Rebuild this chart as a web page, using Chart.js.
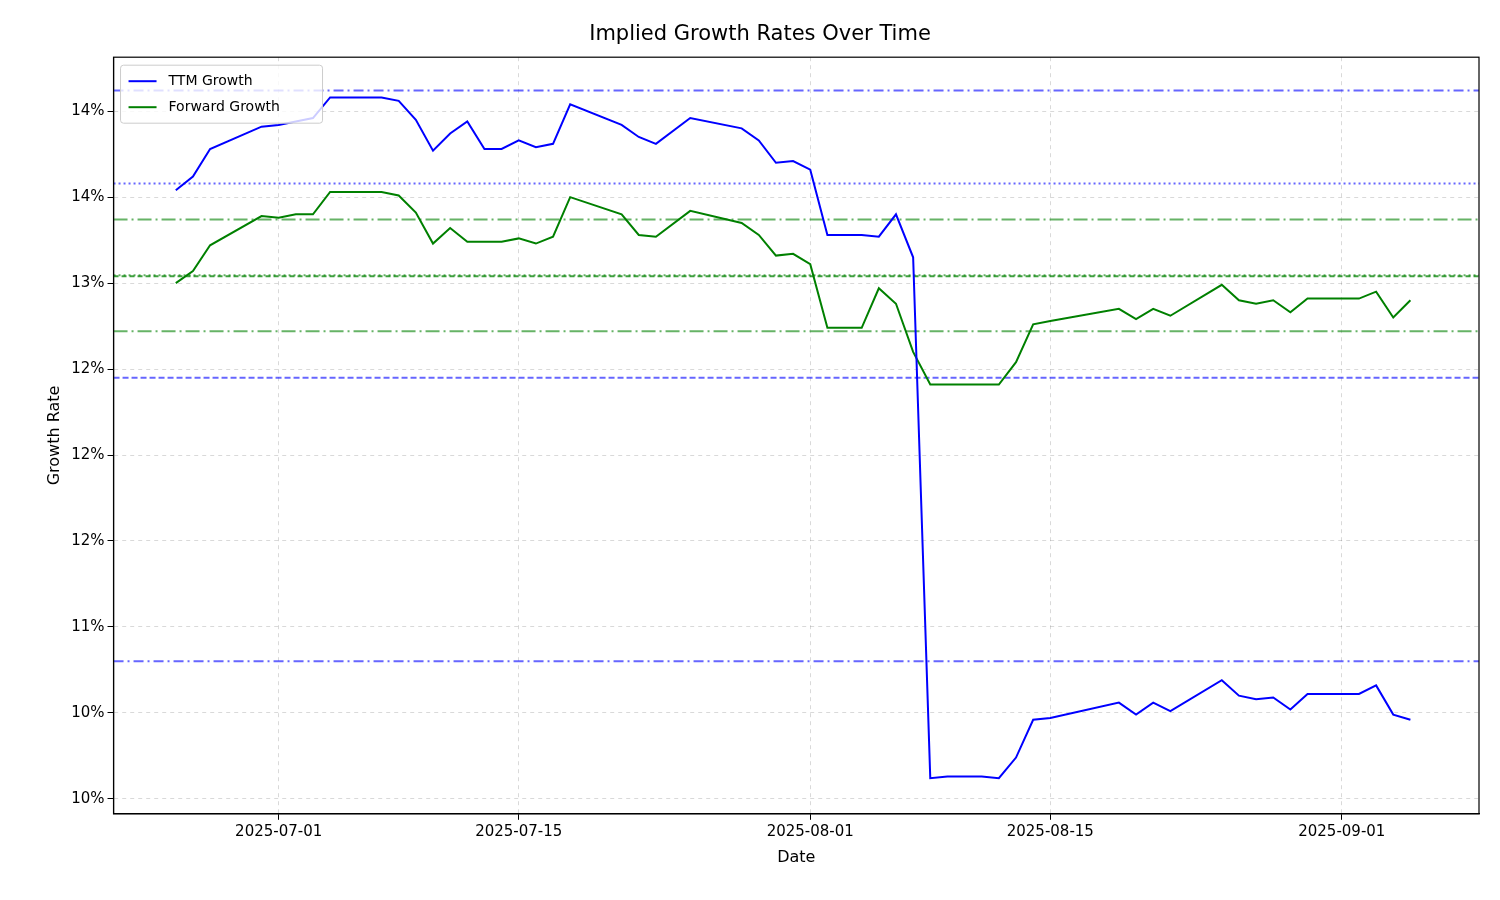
<!DOCTYPE html>
<html><head><meta charset="utf-8">
<script src="https://cdn.jsdelivr.net/npm/chart.js@4"></script>
<style>body{margin:0;background:#fff}#w{width:1500px;height:900px}</style>
</head><body><div id="w"><canvas id="c"></canvas></div>
<script>
const days=[0,1,2,5,6,7,8,9,12,13,14,15,16,17,18,19,20,21,22,23,26,27,28,30,33,34,35,36,37,38,40,41,42,43,44,45,47,48,49,50,51,55,56,57,58,61,62,63,64,65,66,69,70,71,72];
const ttm=[13.54,13.62,13.78,13.91,13.92,13.94,13.96,14.08,14.08,14.06,13.95,13.77,13.87,13.94,13.78,13.78,13.83,13.79,13.81,14.04,13.92,13.85,13.81,13.96,13.90,13.83,13.70,13.71,13.66,13.28,13.28,13.27,13.40,13.15,10.12,10.13,10.13,10.12,10.24,10.46,10.47,10.56,10.49,10.56,10.51,10.69,10.60,10.58,10.59,10.52,10.61,10.61,10.66,10.49,10.46];
const fwd=[13.00,13.07,13.22,13.39,13.38,13.40,13.40,13.53,13.53,13.51,13.41,13.23,13.32,13.24,13.24,13.24,13.26,13.23,13.27,13.50,13.40,13.28,13.27,13.42,13.35,13.28,13.16,13.17,13.11,12.74,12.74,12.97,12.88,12.60,12.41,12.41,12.41,12.41,12.54,12.76,12.78,12.85,12.79,12.85,12.81,12.99,12.90,12.88,12.90,12.83,12.91,12.91,12.95,12.80,12.90];
const refLines=[
 {v:14.12,c:'rgba(0,0,255,0.6)',d:[10,4,2,4]},
 {v:13.58,c:'rgba(0,0,255,0.6)',d:[2,3]},
 {v:13.37,c:'rgba(0,128,0,0.6)',d:[14,4,2,4]},
 {v:13.04,c:'rgba(0,128,0,0.75)',d:[5,3]},
 {v:13.045,c:'rgba(0,128,0,0.6)',d:[2,3]},
 {v:12.72,c:'rgba(0,128,0,0.6)',d:[14,4,2,4]},
 {v:12.45,c:'rgba(0,0,255,0.6)',d:[6,3]},
 {v:10.80,c:'rgba(0,0,255,0.6)',d:[10,4,2,4]}];
const tickDays=[6,20,37,51,68];
const tickDates=['2025-07-01','2025-07-15','2025-08-01','2025-08-15','2025-09-01'];
const yTicks=[10,10.5,11,11.5,12,12.5,13,13.5,14];
const yLabels=['10%','10%','11%','12%','12%','12%','13%','14%','14%'];
const X0=-3.63,X1=76.0;
const ds=[
 {label:'TTM Growth',data:days.map((d,i)=>({x:d,y:ttm[i]})),borderColor:'#0000ff',borderWidth:2,pointRadius:0,tension:0},
 {label:'Forward Growth',data:days.map((d,i)=>({x:d,y:fwd[i]})),borderColor:'#008000',borderWidth:2,pointRadius:0,tension:0}];
refLines.forEach(r=>ds.push({label:'',data:[{x:X0,y:r.v},{x:X1,y:r.v}],borderColor:r.c,borderDash:r.d,borderWidth:2,pointRadius:0}));
const legendPlug={id:'lg',afterDraw(ch){const c=ch.ctx,a=ch.chartArea;
 c.save();c.strokeStyle='#000';c.lineWidth=1.2;c.strokeRect(a.left,a.top,a.right-a.left,a.bottom-a.top);
 const x=a.left+7,y=a.top+8;
 c.fillStyle='rgba(255,255,255,0.8)';c.strokeStyle='#ccc';c.lineWidth=1;
 c.beginPath();c.roundRect(x,y,202,58,3);c.fill();c.stroke();
 c.font='14px "DejaVu Sans"';c.textBaseline='middle';
 [['TTM Growth','#0000ff'],['Forward Growth','#008000']].forEach((e,i)=>{const yy=y+16+i*26;
 c.strokeStyle=e[1];c.lineWidth=2;c.beginPath();c.moveTo(x+8,yy);c.lineTo(x+36,yy);c.stroke();
 c.fillStyle='#000';c.fillText(e[0],x+48,yy);});c.restore();}};
new Chart(document.getElementById('c'),{type:'line',data:{datasets:ds},plugins:[legendPlug],
options:{responsive:true,maintainAspectRatio:false,animation:false,
 layout:{padding:{left:41,right:21,top:0,bottom:29}},
 plugins:{legend:{display:false},tooltip:{enabled:false},
  title:{display:true,text:'Implied Growth Rates Over Time',color:'#000',font:{family:'DejaVu Sans',size:21,weight:'normal'},padding:{top:22,bottom:10}}},
 scales:{
  x:{type:'linear',min:X0,max:X1,border:{color:'#000',width:1.2,dash:[4,4]},
   afterBuildTicks(ax){ax.ticks=tickDays.map(v=>({value:v}));},
   ticks:{autoSkip:false,maxRotation:0,color:'#000',font:{family:'DejaVu Sans',size:15},callback:v=>tickDates[tickDays.indexOf(v)]},
   grid:{color:'rgba(0,0,0,0.15)',tickColor:'#000',tickLength:6,lineWidth:1},
   title:{display:true,text:'Date',color:'#000',font:{family:'DejaVu Sans',size:16}}},
  y:{min:9.913,max:14.314,border:{color:'#000',width:1.2,dash:[4,4]},
   afterBuildTicks(ax){ax.ticks=yTicks.map(v=>({value:v}));},
   ticks:{color:'#000',font:{family:'DejaVu Sans',size:15},callback:v=>yLabels[yTicks.indexOf(v)]},
   grid:{color:'rgba(0,0,0,0.15)',tickColor:'#000',tickLength:6},
   title:{display:true,text:'Growth Rate',color:'#000',font:{family:'DejaVu Sans',size:16}}}}}});
</script></body></html>
